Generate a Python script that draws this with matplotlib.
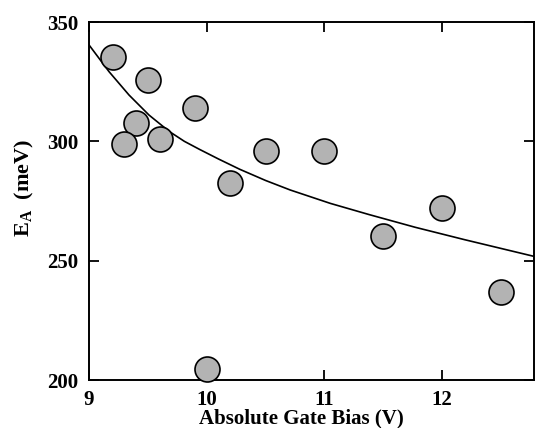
import matplotlib
matplotlib.use('Agg')
import matplotlib.pyplot as plt

# measured points
gate_bias = [9.2, 9.5, 9.4, 9.3, 9.6, 9.9, 10.0, 10.2, 10.5, 11.0, 11.5, 12.0, 12.5]
e_a = [335.5, 325.7, 307.8, 298.7, 301.0, 313.8, 204.4, 282.4, 296.1, 296.1, 260.4, 271.9, 236.7]

# fit curve
fit_x = [9.0, 9.17, 9.34, 9.51, 9.68, 9.81, 9.94, 10.1, 10.28, 10.5, 10.71,
         11.05, 11.38, 11.77, 12.19, 12.78]
fit_y = [340.4, 329.2, 319.4, 311.0, 304.2, 300.0, 296.6, 292.6, 288.3, 283.6,
         279.6, 274.0, 269.3, 264.0, 258.8, 251.8]

x_ticks = [9, 10, 11, 12]
y_ticks = [200, 250, 300, 350]

plt.rcParams['font.family'] = ['Liberation Serif', 'DejaVu Serif']
plt.rcParams['font.weight'] = 'bold'
plt.rcParams['mathtext.fontset'] = 'custom'
plt.rcParams['mathtext.bf'] = 'Liberation Serif:bold'
plt.rcParams['mathtext.rm'] = 'Liberation Serif:bold'
plt.rcParams['mathtext.it'] = 'Liberation Serif:bold'

fig = plt.figure(figsize=(5.35, 4.28), dpi=100)
ax = fig.add_axes([89 / 535, 1 - 380 / 428, 445 / 535, 358 / 428])

ax.plot(fit_x, fit_y, color='black', lw=1.2, zorder=2)
ax.plot(gate_bias, e_a, 'o', ms=18, mfc='#b3b3b3', mec='black', mew=1.2,
        zorder=3, clip_on=False)

ax.set_xlim(9, 12.78)
ax.set_ylim(200, 350)
ax.set_xticks(x_ticks)
ax.set_yticks(y_ticks)
ax.tick_params(direction='in', length=7, width=1.3, top=True, right=True,
               labelsize=15)
ax.tick_params(axis='y', pad=8)
ax.tick_params(axis='x', pad=7)
for lab in ax.get_xticklabels() + ax.get_yticklabels():
    lab.set_fontweight('bold')
for sp in ax.spines.values():
    sp.set_linewidth(1.4)

ax.set_xlabel('Absolute Gate Bias (V)', fontsize=15, fontweight='bold')
ax.xaxis.set_label_coords(0.4775, -0.08)
ax.set_ylabel(r'$\mathbf{E_A}$  (meV)', fontsize=16, fontweight='bold')
ax.yaxis.set_label_coords(-0.12, 0.538)

fig.savefig('out.png', dpi=100)
